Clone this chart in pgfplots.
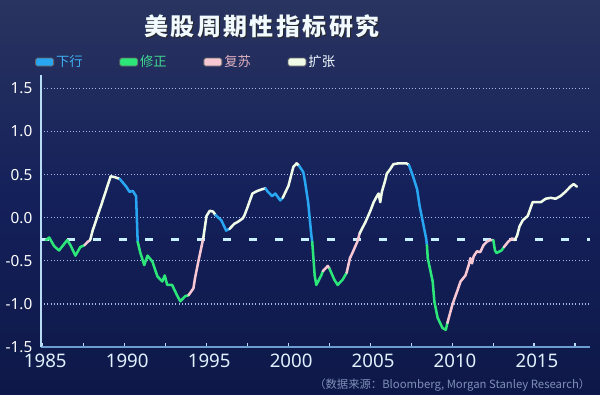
\documentclass[border=0pt]{standalone}
\usepackage{fontspec}
\usepackage{pgfplots}
\pgfplotsset{compat=1.18}
\setmainfont{Noto Sans}
\newfontfamily\cjk{Noto Sans CJK SC}
\definecolor{bgtop}{HTML}{2A3460}
\definecolor{bgmid}{HTML}{14205A}
\definecolor{bgbot}{HTML}{0E1848}
\definecolor{blueC}{HTML}{28A6F2}
\definecolor{greenC}{HTML}{2CE67A}
\definecolor{pinkC}{HTML}{F7C8D4}
\definecolor{whiteC}{HTML}{F0FCE8}
\definecolor{dashC}{HTML}{C8F0FF}
\definecolor{gridC}{HTML}{A8B8E8}
\definecolor{yaxC}{HTML}{B8DCF4}
\definecolor{xaxC}{HTML}{6C9CD0}
\definecolor{tickC}{HTML}{E0F2FF}
\definecolor{srcC}{HTML}{7F8FB8}
\definecolor{legB}{HTML}{40B0F0}
\definecolor{legG}{HTML}{40D890}
\definecolor{legP}{HTML}{E0B0C0}
\definecolor{legW}{HTML}{F0FAFF}
\begin{document}
\begin{tikzpicture}[x=0.75pt,y=0.75pt]
\path[use as bounding box, top color=bgtop, bottom color=bgbot, middle color=bgmid] (0,0) rectangle (600,394);
\node[text=black!85, font=\cjk\bfseries\fontsize{18}{20}\selectfont\addfontfeature{LetterSpace=10}] at (263,367) {美股周期性指标研究};
\node[text=legW, font=\cjk\bfseries\fontsize{18}{20}\selectfont\addfontfeature{LetterSpace=10}] at (262,368) {美股周期性指标研究};
\node[anchor=east, text=srcC, font=\cjk\fontsize{8.5}{9}\selectfont] at (595,9) {（数据来源：Bloomberg, Morgan Stanley Research）};
\begin{axis}[
  at={(30.75pt,35.25pt)}, anchor=south west,
  scale only axis, width=411.75pt, height=203.7pt,
  xmin=1984.9, xmax=2018.4, ymin=-1.5, ymax=1.65,
  axis lines=left,
  axis line style={-},
  x axis line style={draw=xaxC, line width=1.5pt},
  y axis line style={draw=yaxC, line width=1.5pt},
  xtick={1985,1990,...,2015},
  minor xtick={1987.5,1992.5,...,2017.5},
  ytick={-1.5,-1,...,1.5},
  tick align=inside,
  major tick length=3pt, minor tick length=3pt,
  xtick style={draw=yaxC, line width=1.2pt},
  ytick style={draw=none},
  ymajorgrids, grid style={draw=gridC, dotted, line width=1pt},
  /pgf/number format/assume math mode=true,
  xticklabel style={font=\fontsize{14}{15}\selectfont, text=tickC, yshift=-2pt, xshift=2pt},
  x tick label style={/pgf/number format/1000 sep={}},
  yticklabel style={font=\fontsize{11.5}{12}\selectfont, text=white, xshift=-3pt, /pgf/number format/.cd, fixed, fixed zerofill, precision=1},
  every axis plot/.append style={line width=1.9pt, line join=round, line cap=round},
  swatch/.style={legend image code/.code={\draw[fill=#1, draw=black!60, line width=0.6pt, rounded corners=1.2pt] (0pt,-3pt) rectangle (13.5pt,3pt);}},
  legend style={at={(axis description cs:-0.011,1.049)}, anchor=west, draw=none, fill=none, inner sep=0pt,
    legend columns=4, font=\cjk\fontsize{10}{11}\selectfont, nodes={inner sep=1.5pt},
    /tikz/every even column/.append style={column sep=26pt}},
]
\addlegendimage{swatch=blueC}\addlegendentry{\textcolor{legB}{下行}}
\addlegendimage{swatch=greenC}\addlegendentry{\textcolor{legG}{修正}}
\addlegendimage{swatch=pinkC}\addlegendentry{\textcolor{legP}{复苏}}
\addlegendimage{swatch=whiteC}\addlegendentry{\textcolor{legW}{扩张}}

\addplot[dashC, line width=2.2pt, line cap=butt, dash pattern=on 6pt off 13.5pt, forget plot] coordinates {(1984.9,-0.25) (2018.4,-0.25)};

\addplot[greenC, forget plot] coordinates {(1985.2,-0.26) (1985.4,-0.23) (1985.7,-0.33) (1986.0,-0.38) (1986.5,-0.26) (1986.7,-0.32) (1987.0,-0.44) (1987.3,-0.34) (1987.55,-0.32)};
\addplot[pinkC, forget plot] coordinates {(1987.55,-0.32) (1987.75,-0.28) (1987.9,-0.26)};
\addplot[whiteC, forget plot] coordinates {(1987.9,-0.26) (1988.05,-0.15) (1988.6,0.16) (1989.15,0.48) (1989.4,0.47) (1989.7,0.45)};
\addplot[blueC, forget plot] coordinates {(1989.7,0.45) (1990.1,0.36) (1990.3,0.30) (1990.5,0.31) (1990.7,0.25) (1990.8,-0.28)};
\addplot[greenC, forget plot] coordinates {(1990.8,-0.28) (1990.95,-0.40) (1991.2,-0.55) (1991.4,-0.44) (1991.7,-0.51) (1992.0,-0.68) (1992.3,-0.74) (1992.45,-0.67) (1992.6,-0.78) (1992.9,-0.78) (1993.2,-0.90) (1993.4,-0.97) (1993.7,-0.91) (1993.9,-0.90)};
\addplot[pinkC, forget plot] coordinates {(1993.9,-0.90) (1994.2,-0.82) (1994.3,-0.70) (1994.5,-0.51) (1994.7,-0.33) (1994.8,-0.24)};
\addplot[whiteC, forget plot] coordinates {(1994.8,-0.24) (1995.0,0.02) (1995.2,0.08) (1995.4,0.07) (1995.55,0.03)};
\addplot[blueC, forget plot] coordinates {(1995.55,0.03) (1995.9,-0.03) (1996.2,-0.15) (1996.4,-0.13)};
\addplot[whiteC, forget plot] coordinates {(1996.4,-0.13) (1996.7,-0.07) (1996.9,-0.05) (1997.2,-0.01) (1997.3,0.02) (1997.5,0.12) (1997.65,0.20) (1997.8,0.28) (1998.1,0.31) (1998.4,0.33) (1998.6,0.34)};
\addplot[blueC, forget plot] coordinates {(1998.6,0.34) (1998.7,0.31) (1999.0,0.25) (1999.2,0.28) (1999.5,0.20) (1999.65,0.23)};
\addplot[whiteC, forget plot] coordinates {(1999.65,0.23) (2000.0,0.37) (2000.3,0.59) (2000.5,0.63) (2000.65,0.60)};
\addplot[blueC, forget plot] coordinates {(2000.65,0.60) (2000.9,0.53) (2001.0,0.43) (2001.2,0.18) (2001.4,-0.21) (2001.45,-0.28)};
\addplot[greenC, forget plot] coordinates {(2001.45,-0.28) (2001.6,-0.67) (2001.7,-0.78) (2002.0,-0.67) (2002.1,-0.62)};
\addplot[pinkC, forget plot] coordinates {(2002.1,-0.62) (2002.4,-0.56) (2002.5,-0.59)};
\addplot[greenC, forget plot] coordinates {(2002.5,-0.59) (2002.8,-0.72) (2003.0,-0.78) (2003.3,-0.72) (2003.55,-0.64)};
\addplot[pinkC, forget plot] coordinates {(2003.55,-0.64) (2003.75,-0.47) (2003.9,-0.41) (2004.2,-0.28) (2004.35,-0.18)};
\addplot[whiteC, forget plot] coordinates {(2004.35,-0.18) (2004.7,-0.05) (2005.0,0.08) (2005.2,0.18) (2005.4,0.25) (2005.5,0.28) (2005.6,0.18) (2005.7,0.30) (2005.9,0.43) (2006.0,0.51) (2006.2,0.56) (2006.4,0.62) (2006.7,0.63) (2007.2,0.63) (2007.35,0.61)};
\addplot[blueC, forget plot] coordinates {(2007.35,0.61) (2007.6,0.48) (2007.85,0.33) (2008.0,0.14) (2008.2,-0.05) (2008.4,-0.24) (2008.45,-0.32)};
\addplot[greenC, forget plot] coordinates {(2008.45,-0.32) (2008.5,-0.47) (2008.8,-0.74) (2008.9,-0.97) (2009.1,-1.16) (2009.4,-1.28) (2009.6,-1.30) (2009.7,-1.22)};
\addplot[pinkC, forget plot] coordinates {(2009.7,-1.22) (2009.9,-1.08) (2010.0,-1.01) (2010.3,-0.85) (2010.5,-0.74) (2010.8,-0.67) (2011.0,-0.55) (2011.1,-0.47) (2011.2,-0.53) (2011.3,-0.45) (2011.5,-0.39) (2011.7,-0.40) (2011.9,-0.32) (2012.1,-0.28) (2012.3,-0.26) (2012.5,-0.26)};
\addplot[greenC, forget plot] coordinates {(2012.5,-0.26) (2012.6,-0.38) (2012.7,-0.41) (2013.0,-0.38) (2013.15,-0.34)};
\addplot[pinkC, forget plot] coordinates {(2013.15,-0.34) (2013.4,-0.28) (2013.65,-0.24) (2013.8,-0.26)};
\addplot[whiteC, forget plot] coordinates {(2013.8,-0.26) (2013.95,-0.21) (2014.1,-0.10) (2014.3,-0.03) (2014.6,0.02) (2014.9,0.18) (2015.2,0.18) (2015.4,0.18) (2015.7,0.22) (2016.0,0.23) (2016.3,0.22) (2016.6,0.25) (2016.9,0.30) (2017.2,0.36) (2017.4,0.39) (2017.6,0.36)};
\end{axis}
\end{tikzpicture}
\end{document}
